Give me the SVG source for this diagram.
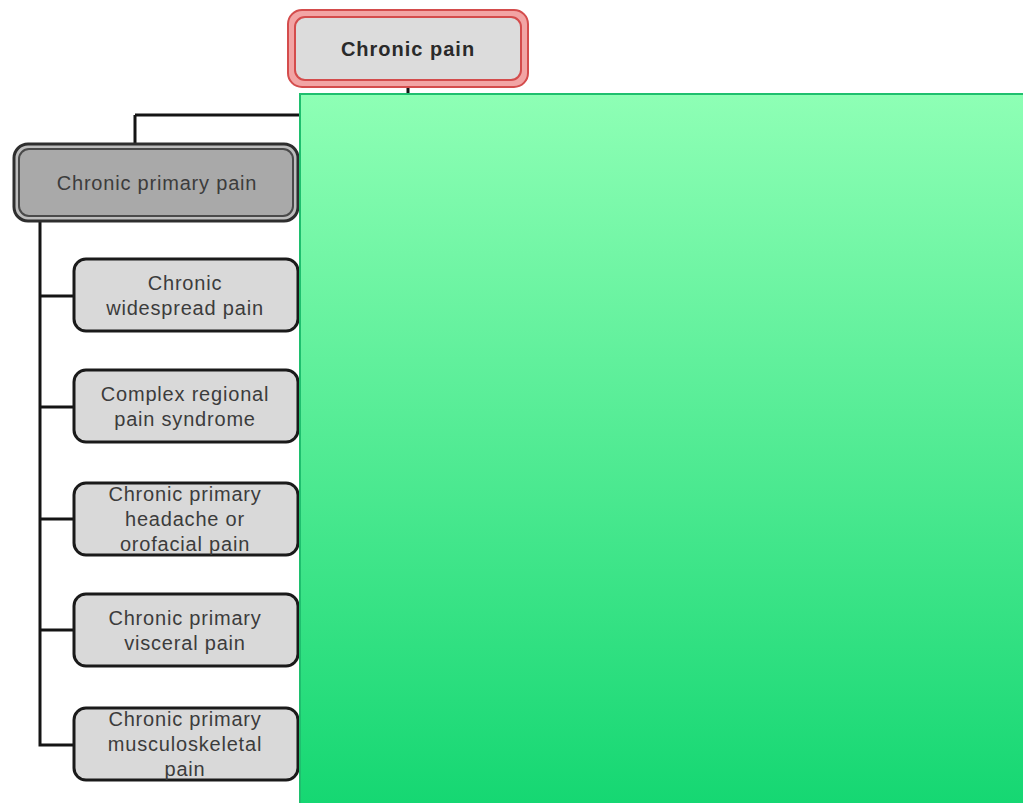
<svg xmlns="http://www.w3.org/2000/svg" width="1023" height="803" viewBox="0 0 1023 803">
  <defs>
    <linearGradient id="greenFill" x1="0" y1="0" x2="0" y2="1">
      <stop offset="0" stop-color="#8effb5"/>
      <stop offset="1" stop-color="#15d772"/>
    </linearGradient>
  </defs>
  <style>
    .lbl { font-family: "Liberation Sans", Arial, sans-serif; font-size: 20px; letter-spacing: 0.8px; fill: #3c3c3c; text-anchor: middle; }
    .title { font-family: "Liberation Sans", Arial, sans-serif; font-size: 20px; letter-spacing: 1px; font-weight: bold; fill: #2a2a2a; text-anchor: middle; }
    .child { fill: #d9d9d9; stroke: #1a1a1a; stroke-width: 3; }
    .link { fill: none; stroke: #141414; stroke-width: 3; }
  </style>
  <rect width="1023" height="803" fill="#ffffff"/>

  <g id="connectors">
    <path class="link" d="M408 86 V115 M135 115 H408 M135 115 V146"/>
    <path class="link" d="M40 220 V745 H74 M40 296 H74 M40 407 H74 M40 519 H74 M40 630 H74"/>
  </g>

  <g id="node-chronic-pain">
    <rect x="288" y="10" width="240" height="77" rx="14" fill="#f2a4a4" stroke="#d44c4c" stroke-width="2"/>
    <rect x="295" y="17" width="226" height="63" rx="10" fill="#dcdcdc" stroke="#d44c4c" stroke-width="2"/>
    <text class="title" x="408" y="56">Chronic pain</text>
  </g>

  <g id="node-chronic-primary-pain">
    <rect x="14" y="144" width="284" height="77" rx="14" fill="#bdbdbd" stroke="#2e2e2e" stroke-width="3"/>
    <rect x="19" y="149" width="274" height="67" rx="10" fill="#a9a9a9" stroke="#4a4a4a" stroke-width="2"/>
    <text class="lbl" x="157" y="190">Chronic primary pain</text>
  </g>

  <g id="node-widespread">
    <rect class="child" x="74" y="259" width="224" height="72" rx="12"/>
    <text class="lbl" x="185" y="290">Chronic</text>
    <text class="lbl" x="185" y="315">widespread pain</text>
  </g>

  <g id="node-crps">
    <rect class="child" x="74" y="370" width="224" height="72" rx="12"/>
    <text class="lbl" x="185" y="401">Complex regional</text>
    <text class="lbl" x="185" y="426">pain syndrome</text>
  </g>

  <g id="node-headache">
    <rect class="child" x="74" y="483" width="224" height="72" rx="12"/>
    <text class="lbl" x="185" y="501">Chronic primary</text>
    <text class="lbl" x="185" y="526">headache  or</text>
    <text class="lbl" x="185" y="551">orofacial pain</text>
  </g>

  <g id="node-visceral">
    <rect class="child" x="74" y="594" width="224" height="72" rx="12"/>
    <text class="lbl" x="185" y="625">Chronic primary</text>
    <text class="lbl" x="185" y="650">visceral pain</text>
  </g>

  <g id="node-musculoskeletal">
    <rect class="child" x="74" y="708" width="224" height="72" rx="12"/>
    <text class="lbl" x="185" y="726">Chronic primary</text>
    <text class="lbl" x="185" y="751">musculoskeletal</text>
    <text class="lbl" x="185" y="776">pain</text>
  </g>

  <g id="overlay-panel">
    <rect x="300" y="94" width="726" height="712" fill="url(#greenFill)" stroke="#1fbf6e" stroke-width="2"/>
  </g>
</svg>
